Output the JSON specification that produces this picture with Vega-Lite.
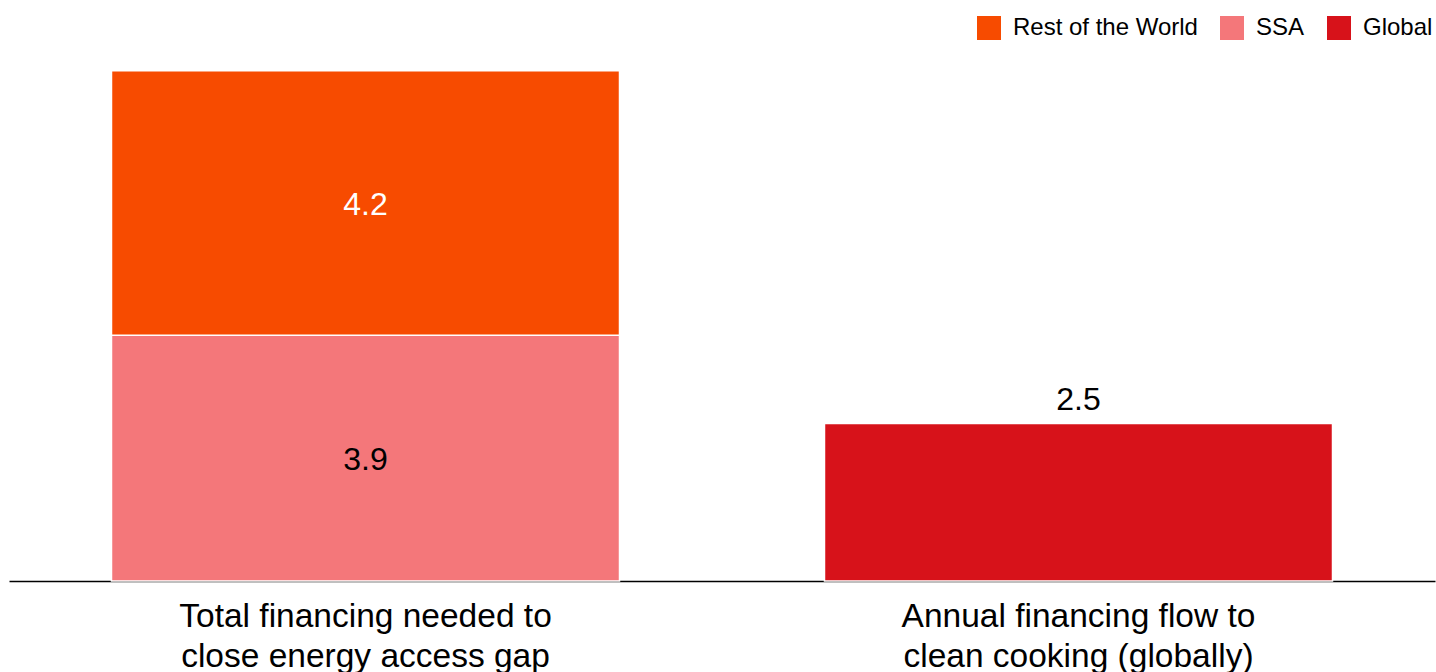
{
  "$schema": "https://vega.github.io/schema/vega-lite/v6.json",
  "autosize": {"type": "none"},
  "padding": {"left": 9, "top": 14, "right": 1, "bottom": 91},
  "width": 1426,
  "height": 567,
  "background": "white",
  "config": {
    "view": {"stroke": null},
    "font": "Liberation Sans"
  },
  "data": {
    "values": [
      {"category": "Total financing needed to\nclose energy access gap", "series": "SSA", "value": 3.9},
      {"category": "Total financing needed to\nclose energy access gap", "series": "Rest of the World", "value": 4.2},
      {"category": "Annual financing flow to\nclean cooking (globally)", "series": "Global", "value": 2.5}
    ]
  },
  "transform": [
    {"stack": "value", "groupby": ["category"], "sort": [{"field": "series", "order": "descending"}], "as": ["v0", "v1"]},
    {"calculate": "(datum.v0 + datum.v1) / 2", "as": "vmid"}
  ],
  "encoding": {
    "x": {
      "field": "category",
      "type": "nominal",
      "sort": null,
      "scale": {"paddingInner": 0.2875, "paddingOuter": 0.14375},
      "axis": {
        "title": null,
        "labelAngle": 0,
        "ticks": false,
        "tickSize": 0,
        "labelPadding": 19,
        "labelFontSize": 33.5,
        "labelFont": "Liberation Sans",
        "labelColor": "black",
        "labelLineHeight": 40,
        "labelBaseline": "top",
        "labelLimit": 600,
        "labelExpr": "split(datum.label, '\\n')",
        "domainColor": "black",
        "domainWidth": 1.5,
        "grid": false
      }
    }
  },
  "layer": [
    {
      "mark": {"type": "bar", "stroke": "white", "strokeWidth": 1.5},
      "encoding": {
        "y": {"field": "v0", "type": "quantitative", "scale": {"domain": [0, 9], "nice": false, "zero": true}, "axis": null},
        "y2": {"field": "v1"},
        "color": {
          "field": "series",
          "type": "nominal",
          "scale": {"domain": ["Rest of the World", "SSA", "Global"], "range": ["#F74B00", "#F4777A", "#D7121A"]},
          "legend": {
            "title": null,
            "orient": "top-right",
            "direction": "horizontal",
            "offset": 2,
            "padding": 0,
            "symbolType": "square",
            "symbolSize": 576,
            "symbolStrokeWidth": 0,
            "labelFontSize": 24,
            "labelFont": "Liberation Sans",
            "labelColor": "black",
            "labelOffset": 12,
            "labelLimit": 400,
            "columnPadding": 22
          }
        }
      }
    },
    {
      "transform": [{"filter": "datum.series !== 'Global'"}],
      "mark": {"type": "text", "fontSize": 32, "baseline": "middle", "align": "center", "dy": 2},
      "encoding": {
        "y": {"field": "vmid", "type": "quantitative"},
        "text": {"field": "value", "type": "quantitative", "format": ".1f"},
        "color": {"condition": {"test": "datum.series === 'Rest of the World'", "value": "white"}, "value": "black"}
      }
    },
    {
      "transform": [{"filter": "datum.series === 'Global'"}],
      "mark": {"type": "text", "fontSize": 32, "baseline": "alphabetic", "align": "center", "dy": -14, "color": "black"},
      "encoding": {
        "y": {"field": "v1", "type": "quantitative"},
        "text": {"field": "value", "type": "quantitative", "format": ".1f"}
      }
    }
  ]
}
